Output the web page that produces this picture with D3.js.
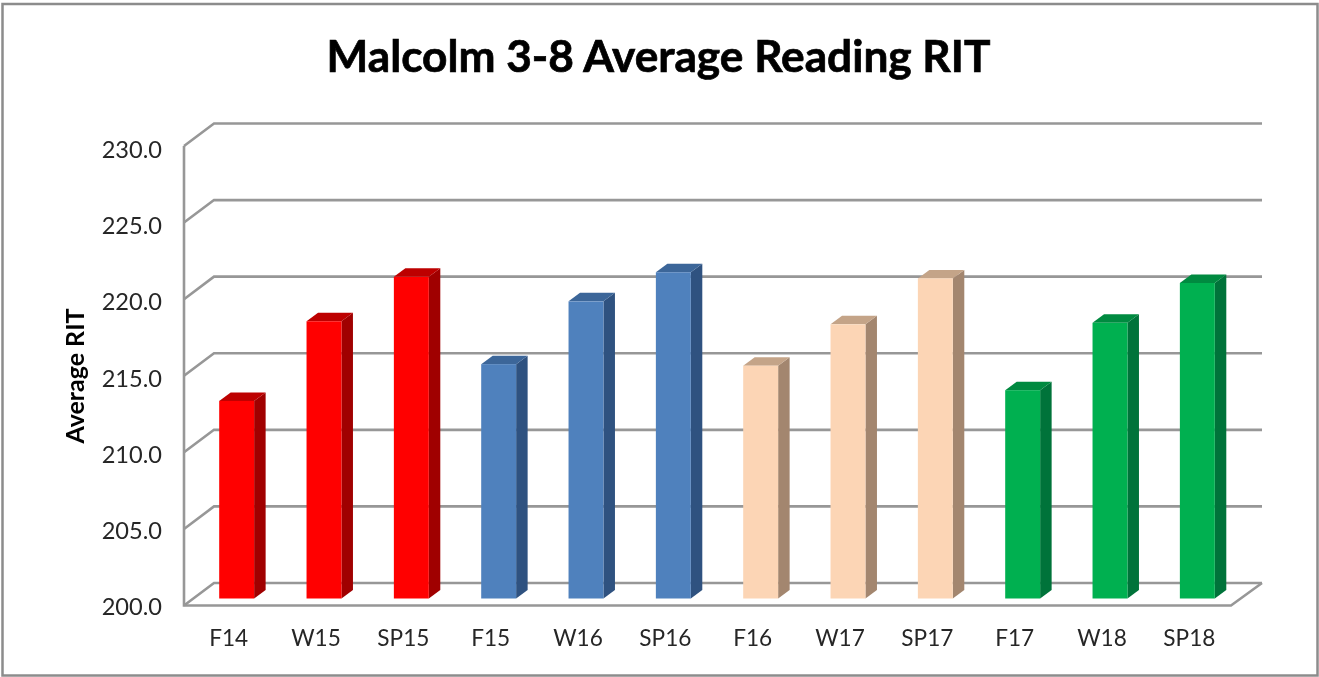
<!DOCTYPE html>
<html><head><meta charset="utf-8">
<script src="https://cdnjs.cloudflare.com/ajax/libs/d3/7.8.5/d3.min.js"></script>
<style>html,body{margin:0;padding:0;background:#fff;overflow:hidden}svg{display:block;filter:blur(0.4px)}text{font-family:Lato,Carlito,Calibri,sans-serif}</style>
</head><body><svg id="c" width="1319" height="677"></svg>
<script>
const categories=["F14","W15","SP15","F15","W16","SP16","F16","W17","SP17","F17","W18","SP18"];
const values=[212.9,218.1,221.0,215.3,219.4,221.3,215.2,217.9,220.9,213.6,218.0,220.6];
const groupIndex=[0,0,0,1,1,1,2,2,2,3,3,3];
const faceColors=["#ff0000","#4f81bd","#fcd5b5","#00b050"];
const sideColors=["#a00000","#2f5280","#a3866f","#00733a"];
const topColors=["#bd0000","#3c6699","#c4a488","#008a40"];
const yTicks=[200,205,210,215,220,225,230];
const titleText="Malcolm 3-8 Average Reading RIT";
const yAxisTitle="Average RIT";

const svg=d3.select("#c");
const grid="#979797";
svg.append("rect").attr("x",2.5).attr("y",4).attr("width",1315).attr("height",671.5)
  .attr("fill","#fff").attr("stroke","#8c8c8c").attr("stroke-width",2.5);

const dx=30,dy=-22.5;           // wall depth
const barDx=9,barDy=-7;         // bar plane offset in the depth
const sideX=11.5,sideY=-8.5;    // bar depth
const x=d3.scaleBand().domain(categories).range([184,1232]).paddingInner(0.6).paddingOuter(0.3);
const y=d3.scaleLinear().domain([200,230]).range([605.5,146]);
const yLabel=d3.scaleLinear().domain([200,230]).range([606,149]);
const barY=v=>y(v)+barDy;
const x0=x.range()[0],x1=x.range()[1];

const gridG=svg.append("g").attr("fill","none").attr("stroke",grid).attr("stroke-width",2.6);
gridG.selectAll("path").data(yTicks).join("path")
  .attr("d",t=>`M${x0},${y(t)}L${x0+dx},${y(t)+dy}L${x1+dx},${y(t)+dy}`);
gridG.append("path").attr("d",`M${x0},${y(230)}V${y(200)}H${x1-1}L${x1+dx},${y(200)+dy}`);

const bars=svg.append("g").selectAll("g").data(categories).join("g");
const bx=d=>x(d)+barDx, bw=x.bandwidth();
const val=i=>values[i];
bars.append("path").attr("fill",(d,i)=>sideColors[groupIndex[i]])
  .attr("d",(d,i)=>{const X=bx(d)+bw,T=barY(val(i)),B=barY(200);
    return `M${X},${T}l${sideX},${sideY}L${X+sideX},${B+sideY}L${X},${B}Z`;});
bars.append("path").attr("fill",(d,i)=>topColors[groupIndex[i]])
  .attr("d",(d,i)=>{const X=bx(d),T=barY(val(i));
    return `M${X},${T}l${sideX},${sideY}h${bw}l${-sideX},${-sideY}Z`;});
bars.append("rect").attr("fill",(d,i)=>faceColors[groupIndex[i]])
  .attr("x",d=>bx(d)).attr("width",bw)
  .attr("y",(d,i)=>barY(val(i))).attr("height",(d,i)=>barY(200)-barY(val(i)));

const yAxis=svg.append("g").attr("transform","translate(162,0)")
  .call(d3.axisLeft(yLabel).tickValues(yTicks).tickFormat(d3.format(".1f")).tickSize(0).tickPadding(0));
yAxis.select(".domain").remove();
yAxis.selectAll("text").attr("font-size",23.6).attr("fill","#262626").attr("dy","0.36em");

const xAxis=svg.append("g").attr("transform","translate(1,630)")
  .call(d3.axisBottom(x).tickSize(0).tickPadding(0));
xAxis.select(".domain").remove();
xAxis.selectAll("text").attr("font-size",22.6).attr("fill","#262626").attr("dy","0.71em");

svg.append("text").attr("x",658.5).attr("y",72).attr("text-anchor","middle")
  .attr("font-size",44.2).attr("font-weight",700).attr("fill","#000")
  .attr("stroke","#000").attr("stroke-width",0.7).text(titleText);
svg.append("text").attr("transform","translate(84,376) rotate(-90)").attr("text-anchor","middle")
  .attr("font-size",25).attr("font-weight",700).attr("fill","#000").text(yAxisTitle);
</script></body></html>
